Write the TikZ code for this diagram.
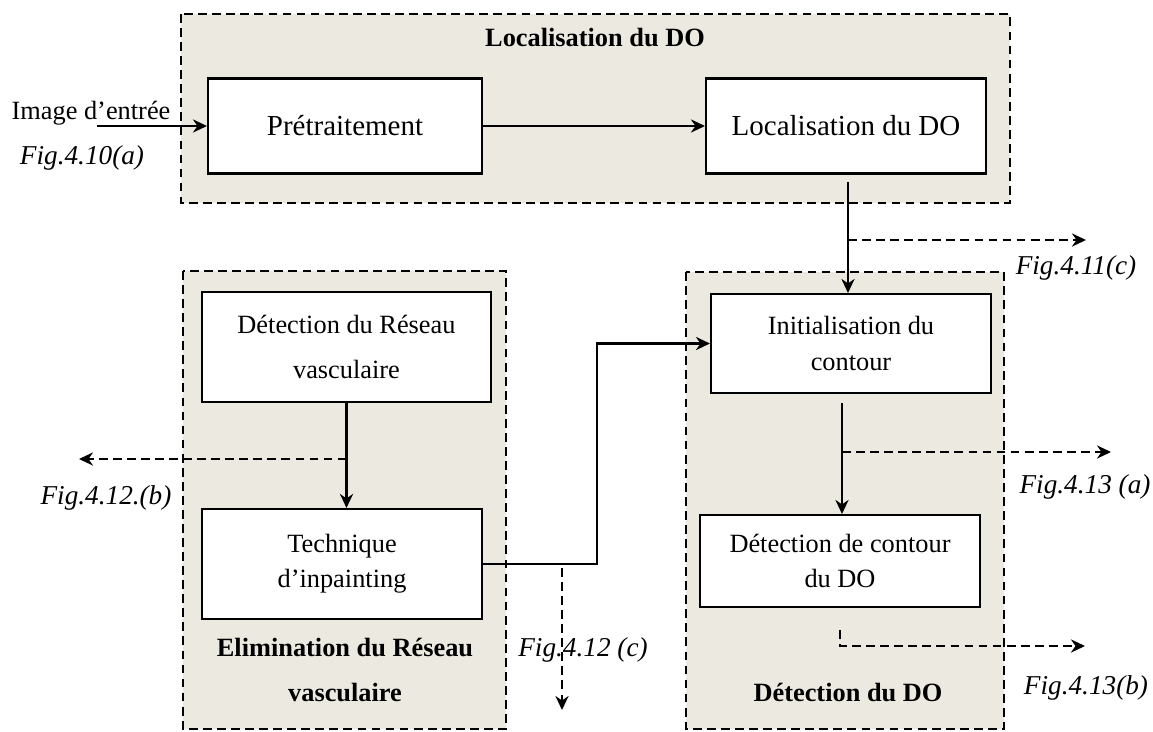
\documentclass[tikz,border=0pt]{standalone}
\usepackage{fontspec}
\setmainfont{Liberation Serif}
\usepackage{xcolor}
\usetikzlibrary{arrows.meta}
\definecolor{grpfill}{RGB}{236,234,224}

\begin{document}
\begin{tikzpicture}[x=0.02cm, y=-0.02cm,
    every node/.style={font=\fontsize{15}{20}\selectfont},
    grp/.style={draw, dash pattern=on 5pt off 3pt, line width=1.2pt, fill=grpfill},
    blk/.style={draw, rectangle, line width=1.2pt, fill=white, align=center, inner sep=0pt, minimum width=5.6cm},
    ttl/.style={font=\fontsize{15}{25.6}\selectfont\bfseries, align=center},
    figlbl/.style={font=\fontsize{15.5}{20}\selectfont\itshape},
    flow/.style={-{Stealth[length=8pt, width=7.5pt]}, line width=1.2pt},
    tap/.style={-{Stealth[length=8pt, width=7.5pt]}, line width=1.2pt, dash pattern=on 5pt off 3pt}]
    \fill[white] (0,0) rectangle (1153,731);
    \useasboundingbox (0,0) rectangle (1153,731);
    \draw[grp] (181,14) rectangle (1010,203);
    \draw[grp] (183,271) rectangle (506,729);
    \draw[grp] (686,272) rectangle (1004,729);
    \node[ttl] (tLoc) at (595,38) {Localisation du DO};
    \node[ttl] (tElim) at (345,670) {Elimination du Réseau\\vasculaire};
    \node[ttl] (tDet) at (848,692) {Détection du DO};
    \node[blk, minimum width=5.48cm, minimum height=1.9cm, font=\fontsize{16.5}{20}\selectfont] (pre) at (345,126) {Prétraitement};
    \node[blk, minimum height=1.9cm, font=\fontsize{16.5}{20}\selectfont] (loc) at (846,126) {Localisation du DO};
    \node[blk, minimum width=5.78cm, minimum height=2.2cm, font=\fontsize{15}{25.6}\selectfont] (reseau) at (346.5,347) {Détection du Réseau\\vasculaire};
    \node[blk, minimum height=2.2cm] (inpaint) at (342,564) {Technique\\d’inpainting};
    \node[blk, minimum height=1.98cm] (init) at (851,343.5) {Initialisation du\\contour};
    \node[blk, minimum height=1.84cm] (contour) at (840,561) {Détection de contour\\du DO};
    \node (inTxt) at (91,113) {Image d’entrée};
    \node[figlbl] (f10a) at (82,158) {Fig.4.10(a)};
    \node[figlbl] (f11c) at (1076,268) {Fig.4.11(c)};
    \node[figlbl] (f12b) at (106,498) {Fig.4.12.(b)};
    \node[figlbl] (f12c) at (583,650) {Fig.4.12 (c)};
    \node[figlbl] (f13a) at (1085,487) {Fig.4.13 (a)};
    \node[figlbl] (f13b) at (1086,688) {Fig.4.13(b)};
    \coordinate (inStart) at (97,126);
    \coordinate (locOut) at (848,182);
    \coordinate (tapA) at (848,240);
    \coordinate (tapAEnd) at (1086,240);
    \coordinate (tapB) at (346.5,459);
    \coordinate (tapBEnd) at (79,459);
    \coordinate (tapC) at (562,568);
    \coordinate (tapCEnd) at (562,710);
    \coordinate (initOut) at (842,403);
    \coordinate (tapD) at (842,452);
    \coordinate (tapDEnd) at (1111,452);
    \coordinate (tapE) at (840,630);
    \coordinate (tapEEnd) at (1085,646);
    \draw[flow] (inStart) -- (pre);
    \draw[flow] (pre) -- (loc);
    \draw[flow] (locOut) -- (locOut |- init.north);
    \draw[flow] (reseau.south) -- (reseau.south |- inpaint.north);
    \draw[flow] (inpaint.east) -- ++(114,0) |- (init.west);
    \draw[flow] (initOut) -- (initOut |- contour.north);
    \draw[tap] (tapA) -- (tapAEnd);
    \draw[tap] (tapB) -- (tapBEnd);
    \draw[tap] (tapC) -- (tapCEnd);
    \draw[tap] (tapD) -- (tapDEnd);
    \draw[tap] (tapE) |- (tapEEnd);
\end{tikzpicture}
\end{document}
